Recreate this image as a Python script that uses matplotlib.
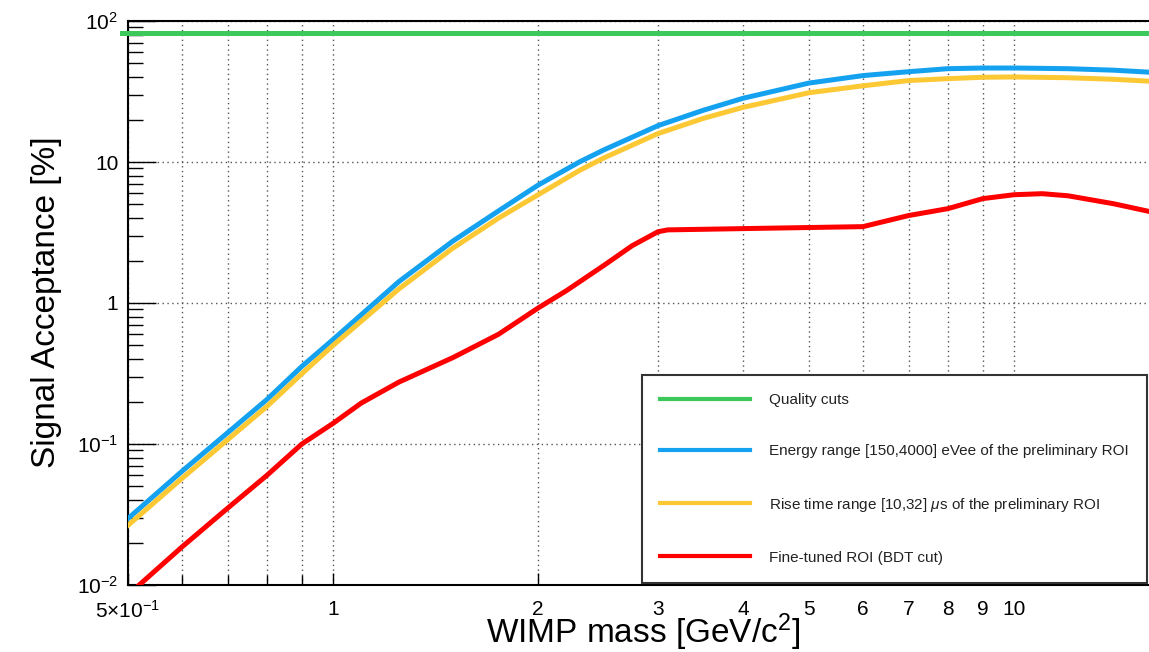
import matplotlib
matplotlib.use("Agg")
import matplotlib.pyplot as plt
from matplotlib.ticker import FixedLocator, NullFormatter, LogLocator

plt.rcParams['font.family'] = ['Liberation Sans', 'DejaVu Sans']
plt.rcParams['mathtext.fontset'] = 'custom'
plt.rcParams['mathtext.rm'] = 'Liberation Sans'
plt.rcParams['mathtext.it'] = 'Liberation Sans:italic'

# WIMP mass [GeV/c^2] and signal acceptance [%]
mass = [0.5, 0.6, 0.7, 0.8, 0.9, 1.0, 1.25, 1.5, 1.75, 2.0, 2.3, 2.5, 3.0, 3.5,
        4.0, 5.0, 6.0, 7.0, 8.0, 9.0, 10.0, 12.0, 14.0, 16.0]
energy_acc = [0.0296, 0.064, 0.12, 0.207, 0.355, 0.55, 1.42, 2.75, 4.5, 6.85,
              10.0, 12.2, 18.1, 23.3, 28.3, 36.3, 41.0, 43.7, 45.9, 46.4,
              46.4, 45.9, 44.8, 43.2]
risetime_acc = [0.0265, 0.057, 0.107, 0.185, 0.315, 0.50, 1.26, 2.45, 4.0, 5.85,
                8.7, 10.7, 15.9, 20.4, 24.4, 31.0, 34.7, 37.8, 39.0, 39.9,
                40.1, 39.6, 38.6, 37.3]

bdt_mass = [0.5, 0.6, 0.7, 0.8, 0.9, 1.0, 1.1, 1.25, 1.5, 1.75, 2.0, 2.2, 2.5,
            2.75, 3.0, 3.1, 4.0, 5.0, 6.0, 7.0, 8.0, 9.0, 10.0, 11.0, 12.0,
            14.0, 16.0]
bdt_acc = [0.0085, 0.0186, 0.035, 0.06, 0.1, 0.14, 0.195, 0.275, 0.41, 0.6, 0.92,
           1.22, 1.85, 2.55, 3.2, 3.3, 3.37, 3.43, 3.48, 4.17, 4.67, 5.5, 5.86,
           5.96, 5.76, 5.06, 4.4]

quality_mass = [0.49, 16.0]
quality_acc = [82.0, 82.0]

xticks = [0.5, 1, 2, 3, 4, 5, 6, 7, 8, 9, 10]
xticklabels = [r'$5{\times}10^{-1}$', '1', '2', '3', '4', '5', '6', '7', '8', '9', '10']
xminor = [0.6, 0.7, 0.8, 0.9]
yticks = [0.01, 0.1, 1, 10, 100]
yticklabels = [r'$10^{-2}$', r'$10^{-1}$', '1', '10', r'$10^{2}$']

labels = ['Quality cuts',
          'Energy range [150,4000] eVee of the preliminary ROI',
          r'Rise time range [10,32] $\mu$s of the preliminary ROI',
          'Fine-tuned ROI (BDT cut)']
colors = ['#3cc85a', '#14a2f0', '#fcc834', '#ff0000']

fig = plt.figure(figsize=(11.49, 6.52), dpi=100)
ax = fig.add_axes([128 / 1149, 1 - 585 / 652, 1025 / 1149, 564 / 652])
ax.set_xscale('log')
ax.set_yscale('log')

lw = 3.6
ax.plot(quality_mass, quality_acc, color=colors[0], lw=lw, label=labels[0], clip_on=False, zorder=3)
ax.plot(mass, energy_acc, color=colors[1], lw=lw, label=labels[1], zorder=3)
ax.plot(mass, risetime_acc, color=colors[2], lw=lw, label=labels[2], zorder=3)
ax.plot(bdt_mass, bdt_acc, color=colors[3], lw=lw, label=labels[3], zorder=3)

ax.set_xlim(0.5, 16)
ax.set_ylim(0.01, 100)

ax.xaxis.set_major_locator(FixedLocator(xticks))
ax.xaxis.set_minor_locator(FixedLocator(xminor))
ax.set_xticklabels(xticklabels)
ax.xaxis.set_minor_formatter(NullFormatter())
ax.yaxis.set_major_locator(FixedLocator(yticks))
ax.set_yticklabels(yticklabels)
ax.yaxis.set_minor_locator(LogLocator(base=10, subs=range(2, 10)))
ax.yaxis.set_minor_formatter(NullFormatter())

ax.tick_params(axis='x', which='major', direction='in', length=9, width=1, pad=11, labelsize=15)
ax.tick_params(axis='x', which='minor', direction='in', length=7, width=1)
ax.tick_params(axis='y', which='major', direction='in', length=20, width=1, pad=7, labelsize=15)
ax.tick_params(axis='y', which='minor', direction='in', length=11, width=1)

gs = dict(color='#555555', linestyle=(0, (1, 2.5)), linewidth=1)
ax.grid(True, axis='x', which='both', **gs)
ax.grid(True, axis='y', which='major', **gs)

for s in ['left', 'bottom', 'top']:
    ax.spines[s].set_linewidth(1.5)
ax.spines['right'].set_visible(False)

fig.text(643 / 1149, 1 - 632 / 652, r'WIMP mass [GeV/c$^{2}$]', ha='center', va='center', fontsize=24)
fig.text(47 / 1149, 1 - 302 / 652, 'Signal Acceptance [%]', ha='center', va='center',
         rotation=90, fontsize=24)

leg = ax.legend(loc='upper left', bbox_to_anchor=(642 / 1149, 1 - 375 / 652),
                bbox_transform=fig.transFigure, fontsize=11, handlelength=5.9,
                handletextpad=1.2, labelspacing=2.43, borderpad=1.2, borderaxespad=0,
                fancybox=False, framealpha=1, edgecolor='#333333')
leg.get_frame().set_linewidth(1.5)
for h in leg.get_lines():
    h.set_linewidth(3)
for t in leg.get_texts():
    t.set_color('#222222')

fig.savefig('out.png', dpi=100)
